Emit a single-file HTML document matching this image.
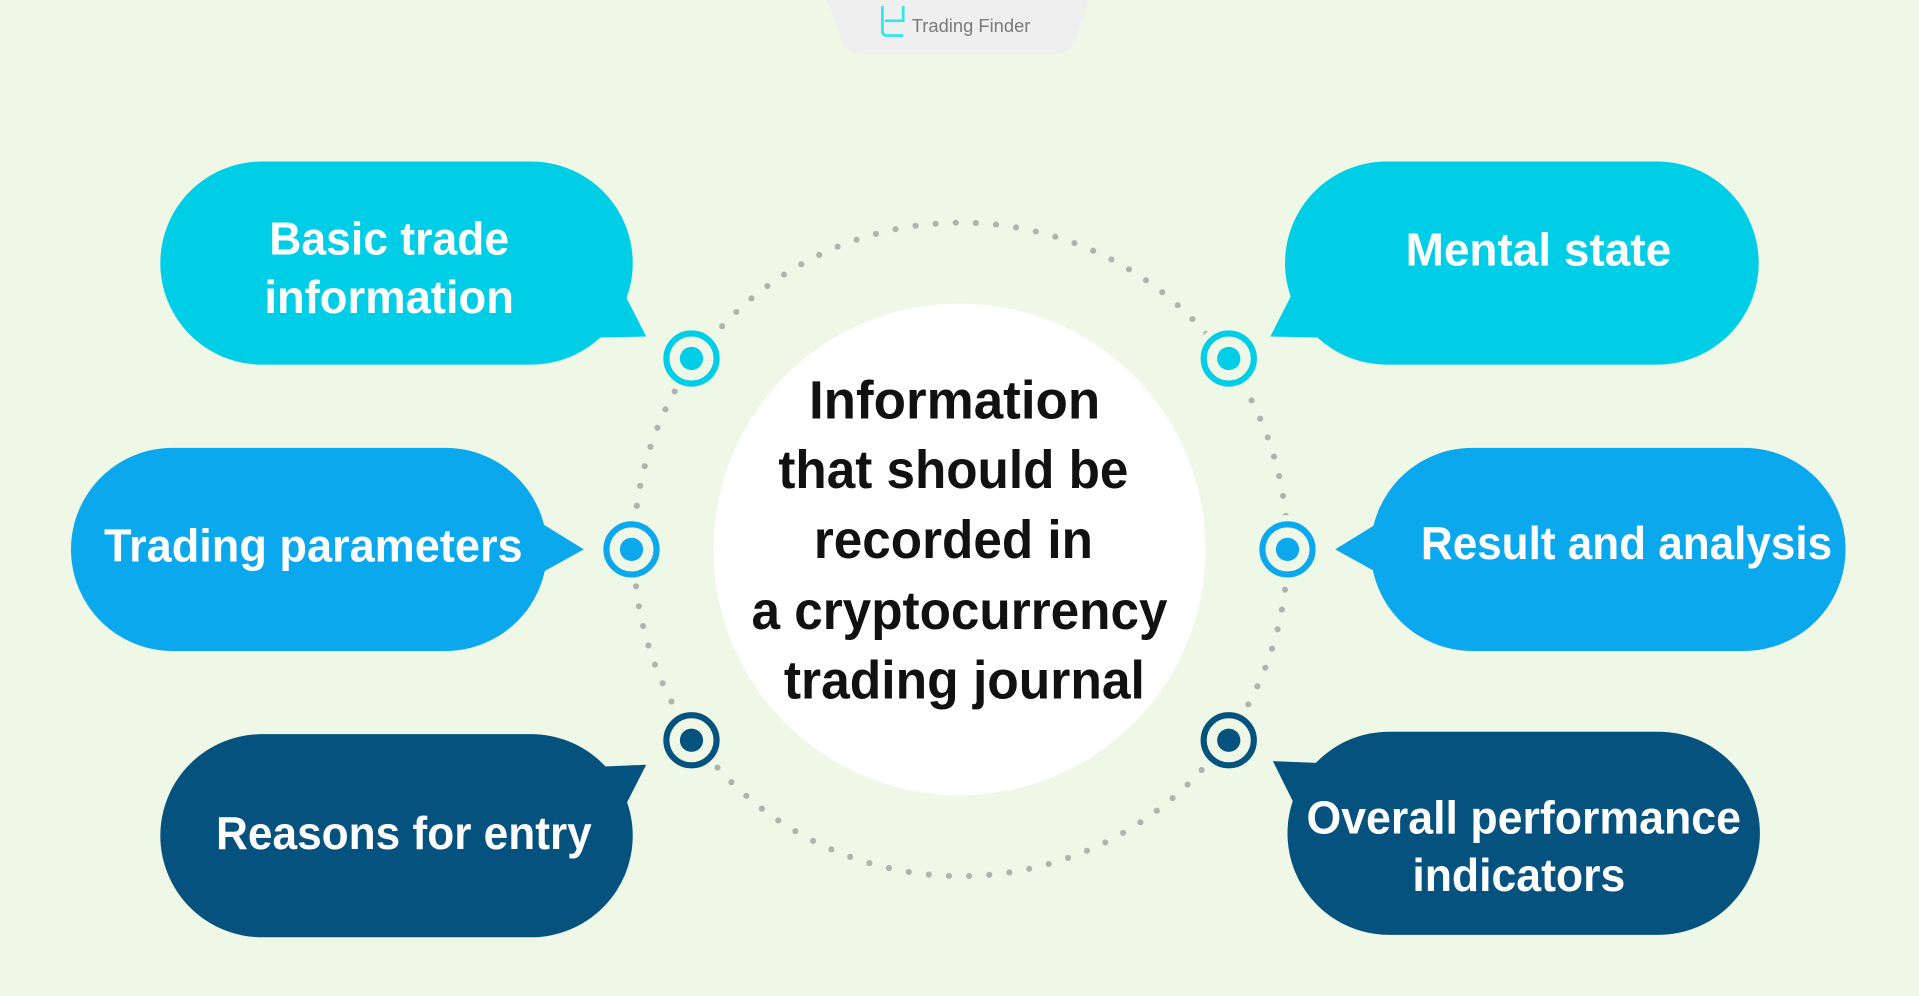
<!DOCTYPE html>
<html><head><meta charset="utf-8"><style>
html,body{margin:0;padding:0;background:#eff7e6;overflow:hidden}
svg{display:block}
text{font-family:"Liberation Sans",Arial,sans-serif;font-weight:bold}
</style></head><body>
<svg width="1919" height="996" viewBox="0 0 1568 814" preserveAspectRatio="none" xmlns="http://www.w3.org/2000/svg">
<rect width="1568" height="814" fill="#eff7e6"/>
<path d="M676 0 H890 L878 34 Q874 44 860 44 H706 Q692 44 688 34 Z" fill="#efefef"/>
<path d="M721 5 V25 Q721 29 725 29 H738 M723 17 H738 V5" fill="none" stroke="#2ee6f0" stroke-width="2.2"/>
<text x="745" y="26" font-size="15" fill="#7a7a7a" style="font-weight:normal">Trading Finder</text>
<circle cx="785" cy="449" r="267" fill="none" stroke="#b0b4b0" stroke-width="5" stroke-linecap="round" stroke-dasharray="0 16.5"/>
<g fill="#eff7e6">
<circle cx="565" cy="293" r="28"/><circle cx="516" cy="449" r="28"/><circle cx="565" cy="605" r="28"/>
<circle cx="1004" cy="293" r="28"/><circle cx="1052" cy="449" r="28"/><circle cx="1004" cy="605" r="28"/>
</g>
<circle cx="784" cy="449" r="201" fill="#ffffff"/>
<g font-size="44" fill="#111" text-anchor="middle">
<text x="780" y="342" textLength="238" lengthAdjust="spacingAndGlyphs">Information</text>
<text x="779" y="399" textLength="286" lengthAdjust="spacingAndGlyphs">that should be</text>
<text x="779" y="456" textLength="228" lengthAdjust="spacingAndGlyphs">recorded in</text>
<text x="784" y="514" textLength="340" lengthAdjust="spacingAndGlyphs">a cryptocurrency</text>
<text x="788" y="571" textLength="295" lengthAdjust="spacingAndGlyphs">trading journal</text>
</g>
<g stroke-width="5" fill="none">
<circle cx="565" cy="293" r="20.5" stroke="#00cde6"/>
<circle cx="516" cy="449" r="20.5" stroke="#0ba8ee"/>
<circle cx="565" cy="605" r="20.5" stroke="#06527e"/>
<circle cx="1004" cy="293" r="20.5" stroke="#00cde6"/>
<circle cx="1052" cy="449" r="20.5" stroke="#0ba8ee"/>
<circle cx="1004" cy="605" r="20.5" stroke="#06527e"/>
</g>
<circle cx="565" cy="293" r="9.5" fill="#00cde6"/>
<circle cx="516" cy="449" r="9.5" fill="#0ba8ee"/>
<circle cx="565" cy="605" r="9.5" fill="#06527e"/>
<circle cx="1004" cy="293" r="9.5" fill="#00cde6"/>
<circle cx="1052" cy="449" r="9.5" fill="#0ba8ee"/>
<circle cx="1004" cy="605" r="9.5" fill="#06527e"/>
<g fill="#00cde6">
<rect x="131" y="132" width="386" height="166" rx="83"/>
<path d="M500 220 L528 275 L480 276 Z"/>
<rect x="1050" y="132" width="387" height="166" rx="83"/>
<path d="M1066 220 L1038 275 L1086 276 Z"/>
</g>
<g fill="#0ba8ee">
<rect x="58" y="366" width="389" height="166" rx="83"/>
<path d="M430 420 L477 449 L430 475 Z"/>
<rect x="1120" y="366" width="388" height="166" rx="83"/>
<path d="M1138 420 L1091 449 L1138 475 Z"/>
</g>
<g fill="#06527e">
<rect x="131" y="600" width="386" height="166" rx="83"/>
<path d="M480 627 L528 625 L500 680 Z"/>
<rect x="1052" y="598" width="386" height="166" rx="83"/>
<path d="M1088 624 L1040 622 L1068 678 Z"/>
</g>
<g font-size="38" fill="#ffffff" text-anchor="middle">
<text x="318" y="208" textLength="196" lengthAdjust="spacingAndGlyphs">Basic trade</text>
<text x="318" y="256" textLength="204" lengthAdjust="spacingAndGlyphs">information</text>
<text x="256" y="459" textLength="342" lengthAdjust="spacingAndGlyphs">Trading parameters</text>
<text x="330" y="694" textLength="307" lengthAdjust="spacingAndGlyphs">Reasons for entry</text>
<text x="1257" y="217" textLength="217" lengthAdjust="spacingAndGlyphs">Mental state</text>
<text x="1329" y="457" textLength="336" lengthAdjust="spacingAndGlyphs">Result and analysis</text>
<text x="1245" y="681" textLength="355" lengthAdjust="spacingAndGlyphs">Overall performance</text>
<text x="1241" y="728" textLength="174" lengthAdjust="spacingAndGlyphs">indicators</text>
</g>
</svg>
</body></html>
